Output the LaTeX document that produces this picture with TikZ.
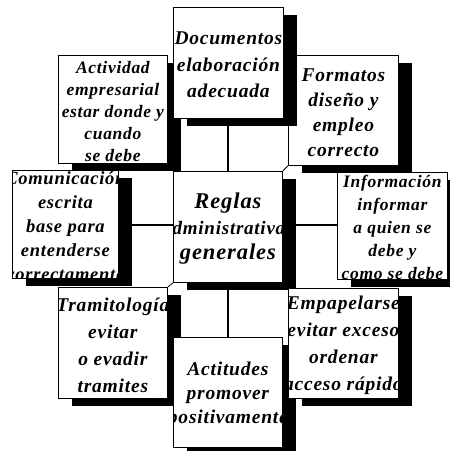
\documentclass[tikz,border=0pt]{standalone}
\usepackage{fontspec}
\setmainfont{Liberation Serif}[LetterSpace=4]
\usetikzlibrary{shadows}
\tikzset{
  caja/.style={draw, fill=white, line width=0.8pt, inner sep=0pt, anchor=north west,
    drop shadow={shadow xshift=14pt, shadow yshift=-8pt, fill=black, opacity=1}},
  txt/.style={align=center, inner sep=0pt, text=black},
  enlace/.style={draw=black, line width=1.4pt},
  esquina/.style={draw=black, line width=0.8pt}
}
\newcommand{\cajon}[7]{%
  \node[caja, minimum width=#4pt, minimum height=#5pt] (#1) at (#2,#3) {};
  \begin{scope}
    \clip (#1.south west) rectangle (#1.north east);
    \node[txt, font=#6] (#1-t) at ([yshift=-2pt]#1.center) {#7};
  \end{scope}}
\begin{document}
\begin{tikzpicture}[x=1pt,y=-1pt]
\useasboundingbox (0,0) rectangle (450,451);
\fill[white] (0,0) rectangle (450,451);
% connectors (behind everything)
\coordinate (docb) at (228,118);
\coordinate (regt) at (228,171);
\coordinate (regb) at (228,282);
\coordinate (actt) at (228,337);
\coordinate (coml) at (118,225);
\coordinate (regl) at (173,225);
\coordinate (regr) at (282,225);
\coordinate (infl) at (337,225);
\draw[enlace] (docb) -- (regt);
\draw[enlace] (regb) -- (actt);
\draw[enlace] (coml) -- (regl);
\draw[enlace] (regr) -- (infl);
% boxes
\cajon{act}{58}{55}{109}{108}{\bfseries\itshape\fontsize{17.5}{22}\selectfont}{Actividad\\empresarial\\estar donde y\\cuando\\se debe}
\cajon{form}{288}{55}{110}{110}{\bfseries\itshape\fontsize{19.5}{25}\selectfont}{Formatos\\dise\~no y\\empleo\\correcto}
\cajon{doc}{173}{7}{110}{111}{\bfseries\itshape\fontsize{19.5}{26.5}\selectfont}{Documentos\\elaboración\\adecuada}
\cajon{com}{12}{170}{106}{108}{\bfseries\itshape\fontsize{18.5}{24}\selectfont}{Comunicación\\escrita\\base para\\entenderse\\correctamente}
\cajon{reg}{173}{171}{109}{111}{\bfseries\itshape\fontsize{19}{25.5}\selectfont}{{\fontsize{22.5}{25.5}\selectfont Reglas}\\administrativas\\{\fontsize{22.5}{25.5}\selectfont generales}}
\cajon{inf}{337}{172}{110}{107}{\bfseries\itshape\fontsize{17.5}{23}\selectfont}{Información\\informar\\a quien se\\debe y\\como se debe}
\cajon{tram}{58}{287}{109}{111}{\bfseries\itshape\fontsize{19.5}{27}\selectfont}{Tramitología\\evitar\\o evadir\\tramites}
\cajon{actit}{173}{337}{109}{110}{\bfseries\itshape\fontsize{19.5}{24}\selectfont}{Actitudes\\promover\\positivamente}
\cajon{emp}{288}{288}{110}{110}{\bfseries\itshape\fontsize{19.5}{27}\selectfont}{Empapelarse\\evitar exceso\\ordenar\\acceso rápido}
% small corner links
\draw[esquina] (form.south west) -- (reg.north east);
\draw[esquina] (tram.north east) -- (reg.south west);
\end{tikzpicture}
\end{document}
